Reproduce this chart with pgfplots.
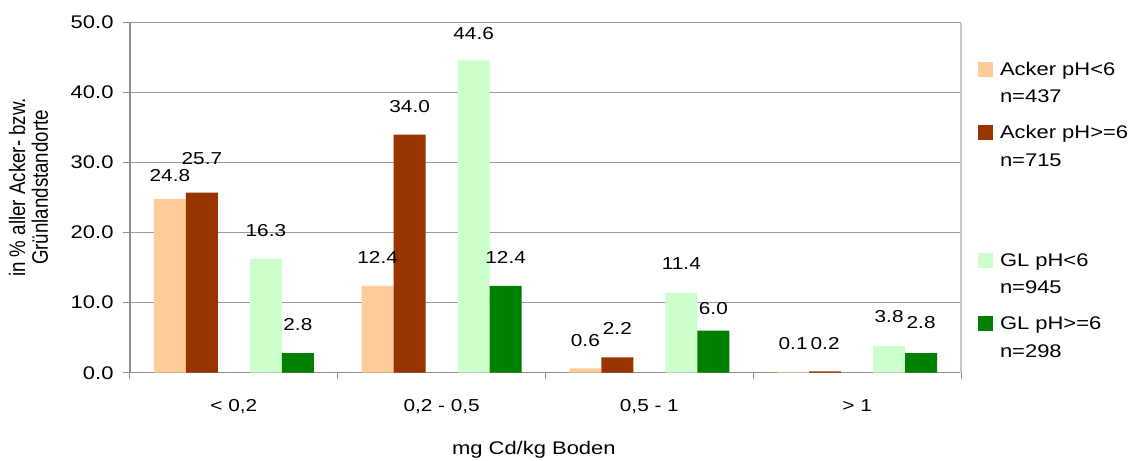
\documentclass[border=0pt]{standalone}
\usepackage{pgfplots}
\pgfplotsset{compat=1.18}
\usepackage{graphicx}
\usepackage{fontspec}
\setmainfont{Liberation Sans}[FakeStretch=1.2]
\newfontfamily\ylabfont{Liberation Sans}

\definecolor{ackerlow}{HTML}{FFCC99}
\definecolor{ackerhigh}{HTML}{993300}
\definecolor{gllow}{HTML}{CCFFCC}
\definecolor{glhigh}{HTML}{008000}
\definecolor{axisgray}{HTML}{8C8C8C}
\definecolor{gridgray}{HTML}{9A9A9A}
\definecolor{framegray}{HTML}{C8C8C8}

% one category step is 831bp/4 = 207.75bp wide; bars are 32bp wide.
% column dy nudges each value label up or down (bp) from its usual place.
\pgfplotsset{
  valuelabels/.style={
    visualization depends on={value \thisrow{dy}\as\labdy},
    nodes near coords={\pgfmathprintnumber[fixed,fixed zerofill,precision=1,assume math mode=true]{\pgfplotspointmeta}},
    nodes near coords style={anchor=south, inner sep=0pt, yshift=22bp, yshift=\labdy bp, text=black},
  },
  catbar/.style={ybar, bar width=32bp, draw=none, valuelabels,
    bar shift=#1, nodes near coords style={xshift=#1}},
}

\begin{document}
\begin{tikzpicture}[font=\fontsize{17.3bp}{21bp}\selectfont]
\begin{axis}[
  at={(0,0)}, anchor=south west,
  scale only axis, width=831bp, height=350.2bp,
  xmin=-0.5, xmax=3.5, ymin=0, ymax=50,
  axis x line*=bottom, axis y line*=left,
  axis line style={draw=axisgray, line width=1.4bp, -},
  tick align=outside,
  ytick={0,10,...,50},
  major tick length=7bp,
  ytick style={draw=axisgray, line width=1bp},
  yticklabel style={/pgf/number format/fixed, /pgf/number format/fixed zerofill,
    /pgf/number format/precision=1, /pgf/number format/assume math mode=true,
    anchor=east, xshift=-6bp, font=\fontsize{18.3bp}{21bp}\selectfont},
  xtick={0,1,2,3},
  xticklabels={{< 0,2},{0,2 - 0,5},{0,5 - 1},{> 1}},
  major x tick style={draw=none},
  minor xtick={-0.5,0.5,1.5,2.5,3.5},
  minor tick length=6bp,
  minor x tick style={draw=axisgray, line width=1bp},
  xticklabel style={anchor=base, yshift=-32bp},
  ymajorgrids=true,
  grid style={draw=gridgray, line width=1bp},
  xlabel={mg Cd/kg Boden},
  xlabel style={at={(axis description cs:0.486,-0.235)}, anchor=base, font=\fontsize{18.3bp}{21bp}\selectfont},
  ylabel={\ylabfont\fontsize{18.7bp}{18bp}\selectfont\scalebox{1}[1.2]{\begin{tabular}{@{}c@{}}in \% aller Acker- bzw.\\Grünlandstandorte\end{tabular}}},
  ylabel style={at={(axis description cs:-0.1185,0.529)}, anchor=center, rotate=0},
  legend style={draw=none, fill=none, inner sep=0pt, outer sep=0pt,
    at={(axis description cs:1.0205,0.888)}, anchor=north west,
    row sep=10.5bp, column sep=7bp,
    font=\fontsize{18.3bp}{21bp}\selectfont,
    nodes={text height=13bp, text depth=4bp, inner sep=0pt, anchor=base west}},
  legend image code/.code={\fill[#1, draw=none] (0bp,-1.5bp) rectangle (15bp,13.5bp);},
  clip=false,
]
\addplot[catbar=-64bp, fill=ackerlow] table[row sep=\\] {
  x y dy \\ 0 24.8 -4.7 \\ 1 12.4 0 \\ 2 0.6 0 \\ 3 0.1 0 \\
};
\addlegendentry{Acker pH<6}
\addlegendimage{empty legend}
\addlegendentry[text depth=12bp]{n=437}
\addplot[catbar=-32bp, fill=ackerhigh] table[row sep=\\] {
  x y dy \\ 0 25.7 5.6 \\ 1 34.0 0 \\ 2 2.2 1 \\ 3 0.2 -1 \\
};
\addlegendentry{Acker pH>=6}
\addlegendimage{empty legend}
\addlegendentry[text depth=12bp]{n=715}
\addlegendimage{empty legend}
\addlegendentry[text height=0bp, text depth=53.5bp]{}
\addplot[catbar=32bp, fill=gllow] table[row sep=\\] {
  x y dy \\ 0 16.3 0 \\ 1 44.6 -2 \\ 2 11.4 1 \\ 3 3.8 1 \\
};
\addlegendentry{GL pH<6}
\addlegendimage{empty legend}
\addlegendentry[text depth=12bp]{n=945}
\addplot[catbar=64bp, fill=glhigh] table[row sep=\\] {
  x y dy \\ 0 2.8 0 \\ 1 12.4 0 \\ 2 6.0 -6 \\ 3 2.8 2 \\
};
\addlegendentry{GL pH>=6}
\addlegendimage{empty legend}
\addlegendentry[text depth=12bp]{n=298}
% light frame line on the right of the plot area
\draw[framegray, line width=1.6bp] (rel axis cs:1,0) -- (rel axis cs:1,1);
\end{axis}
\pgfresetboundingbox
\path (-130bp,-88.3bp) rectangle (1003bp,372.7bp);
\end{tikzpicture}
\end{document}
